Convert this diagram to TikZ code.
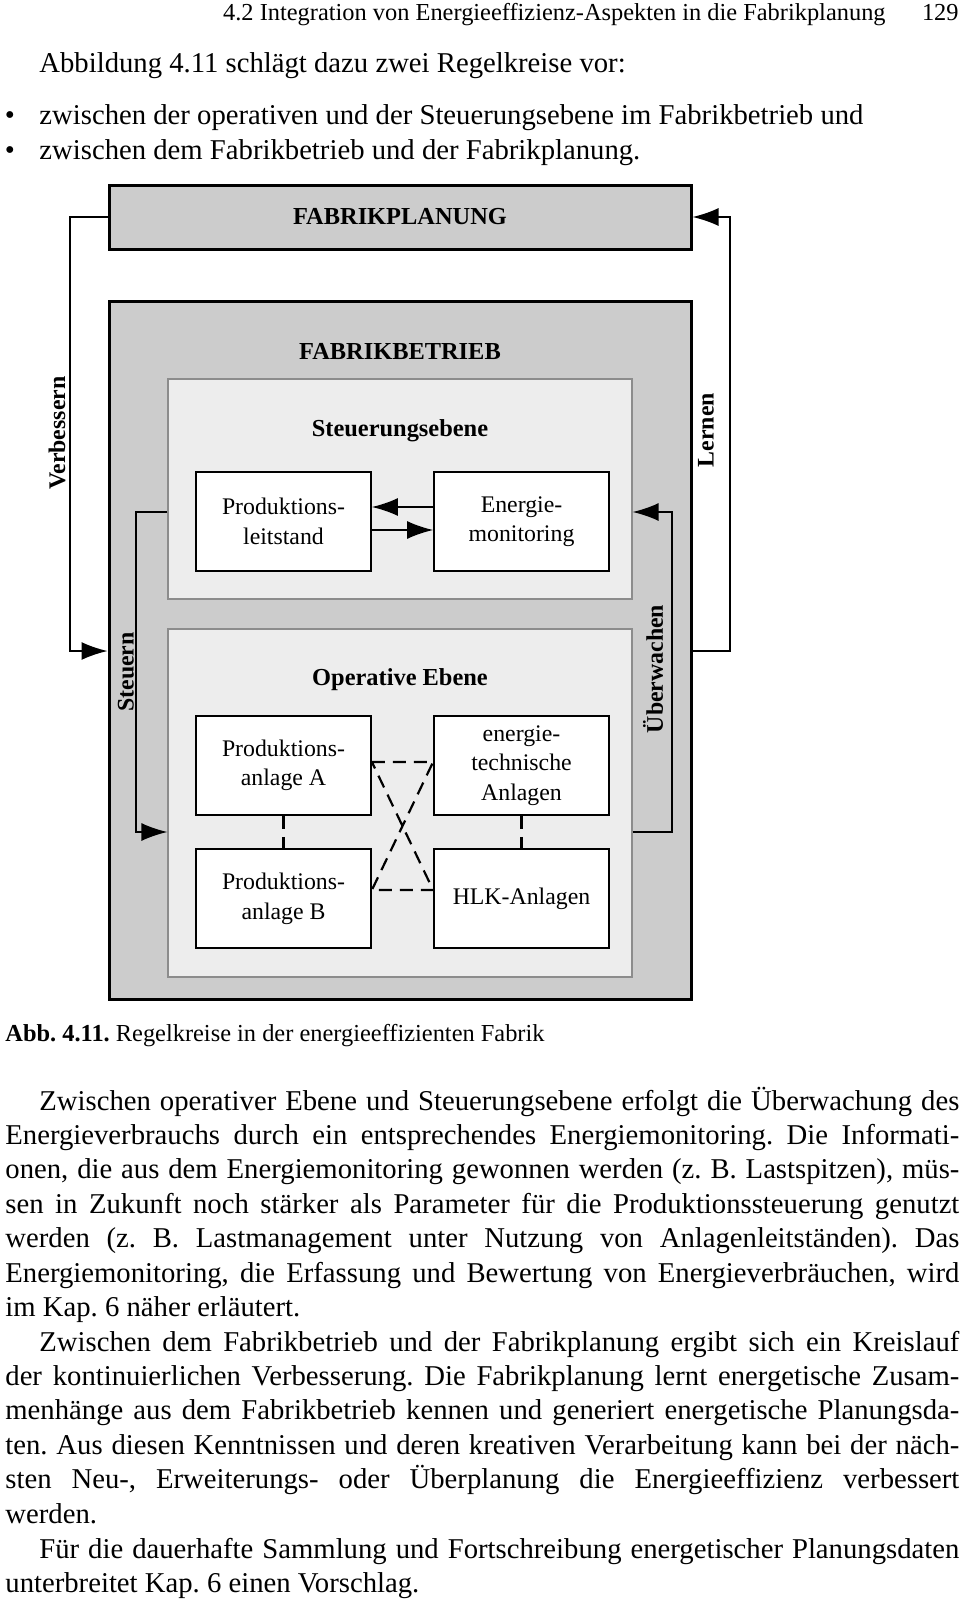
\documentclass[tikz,border=0pt]{standalone}
\usepackage{fontspec}
\setmainfont{Liberation Serif}
\usetikzlibrary{arrows.meta}
\definecolor{darkfill}{gray}{0.80}
\definecolor{lightfill}{gray}{0.93}
\definecolor{framegray}{gray}{0.55}
\tikzstyle{level} = [draw, line width=1.5pt, fill=darkfill, rectangle,
    minimum width=291pt]
\tikzstyle{layer} = [draw=framegray, line width=0.6pt, fill=lightfill, rectangle,
    minimum width=232pt]
\tikzstyle{block} = [draw, line width=0.9pt, fill=white, rectangle, align=center,
    minimum width=87.5pt, minimum height=49.5pt, font=\fontsize{11.9}{14.8}\selectfont]
\tikzstyle{title} = [font=\fontsize{12.2}{14.8}\selectfont\bfseries]
\tikzstyle{loop} = [font=\fontsize{11.9}{14.8}\selectfont\bfseries, rotate=90]
\tikzstyle{conn} = [line width=0.8pt]
\tikzstyle{link} = [line width=1.1pt, dash pattern=on 6.5pt off 4pt]
\tikzstyle{body} = [anchor=base west, inner sep=0pt, font=\fontsize{14.35}{17.22}\selectfont]
\tikzstyle{small} = [anchor=base west, inner sep=0pt, font=\fontsize{12.2}{14.6}\selectfont]
\newcommand\jline[1]{\makebox[477pt][s]{#1}}
\frenchspacing

\begin{document}
\begin{tikzpicture}[x=0.5pt, y=-0.5pt, >={Latex[length=13pt,width=9pt]}]
    \path [use as bounding box, fill=white] (0,0) rectangle (960,1600);
    % page head and text above the figure
    \node [small, anchor=base east] (head) at (886,21) {4.2 Integration von Energieeffizienz-Aspekten in die Fabrikplanung};
    \node [small, anchor=base east] (pagenum) at (959,21) {129};
    \node [body] (intro) at (39,73) {Abbildung 4.11 schlägt dazu zwei Regelkreise vor:};
    \node [body, anchor=base] (dot1) at (10,125) {\textbullet};
    \node [body] (item1) at (39,125) {zwischen der operativen und der Steuerungsebene im Fabrikbetrieb und};
    \node [body, anchor=base] (dot2) at (10,160) {\textbullet};
    \node [body] (item2) at (39,160) {zwischen dem Fabrikbetrieb und der Fabrikplanung.};

    % figure
    \node [level, minimum height=32pt, title] (fp) at (400,217) {FABRIKPLANUNG};
    \node [level, minimum height=349pt] (fb) at (400,650) {};
    \node [title] (fbtitle) at (400,351) {FABRIKBETRIEB};
    \node [layer, minimum height=110pt] (se) at (400,489) {};
    \node [title] (setitle) at (400,431) {Steuerungsebene};
    \node [layer, minimum height=174pt] (oe) at (400,803) {};
    \node [title] (oetitle) at (400,680) {Operative Ebene};

    \node [block] (pl) at (283.5,521.5) {Produktions-\\leitstand};
    \node [block, right of=pl, node distance=119pt] (em) {Energie-\\monitoring};
    \node [block, below of=pl, node distance=122pt] (pa) {Produktions-\\anlage A};
    \node [block, below of=pa, node distance=66.5pt] (pb) {Produktions-\\anlage B};
    \node [block, right of=pa, node distance=119pt] (ea) {energie-\\technische\\Anlagen};
    \node [block, right of=pb, node distance=119pt] (hlk) {HLK-Anlagen};

    \coordinate (vb) at (70,651);
    \coordinate (lr) at (730,651);
    \coordinate (st) at (136,512);
    \coordinate (sb) at (136,832);
    \coordinate (ub) at (672,832);
    \coordinate (ut) at (672,512);

    \draw [conn,->] (fp.west) -| (vb) -- (vb -| fb.west);
    \draw [conn,->] (lr -| fb.east) -- (lr) |- (fp.east);
    \draw [conn,->] (st -| se.west) -- (st) -- (sb) -- (sb -| oe.west);
    \draw [conn,->] (ub -| oe.east) -- (ub) -- (ut) -- (ut -| se.east);
    \draw [conn,->] ([yshift=7.25pt]em.west) -- ([yshift=7.25pt]pl.east);
    \draw [conn,->] ([yshift=-4.25pt]pl.east) -- ([yshift=-4.25pt]em.west);

    \draw [link] (pa) -- (pb);
    \draw [link] (ea) -- (hlk);
    \draw [link] ([yshift=1.75pt]pa.east) -- ([yshift=1.75pt]ea.west)
        -- ([yshift=4.25pt]pb.east) -- ([yshift=4.25pt]hlk.west) -- cycle;

    \node [loop] (verb) at (57,433) {Verbessern};
    \node [loop] (lern) at (706,430) {Lernen};
    \node [loop] (steu) at (126,672) {Steuern};
    \node [loop] (uebw) at (653,669) {Überwachen};

    % caption and text below the figure
    \node [small] (caption) at (5,1041) {\textbf{Abb. 4.11.} Regelkreise in der energieeffizienten Fabrik};
    \node [body] (para1) at (5,1110) {\parbox[t]{477pt}{%
        \jline{\hspace*{17pt}Zwischen operativer Ebene und Steuerungsebene erfolgt die Überwachung des}\\
        \jline{Energieverbrauchs durch ein entsprechendes Energiemonitoring. Die Informati-}\\
        \jline{onen, die aus dem Energiemonitoring gewonnen werden (z. B. Lastspitzen), müs-}\\
        \jline{sen in Zukunft noch stärker als Parameter für die Produktionssteuerung genutzt}\\
        \jline{werden (z. B. Lastmanagement unter Nutzung von Anlagenleitständen). Das}\\
        \jline{Energiemonitoring, die Erfassung und Bewertung von Energieverbräuchen, wird}\\
        im Kap. 6 näher erläutert.}};
    \node [body] (para2) at (5,1351) {\parbox[t]{477pt}{%
        \jline{\hspace*{17pt}Zwischen dem Fabrikbetrieb und der Fabrikplanung ergibt sich ein Kreislauf}\\
        \jline{der kontinuierlichen Verbesserung. Die Fabrikplanung lernt energetische Zusam-}\\
        \jline{menhänge aus dem Fabrikbetrieb kennen und generiert energetische Planungsda-}\\
        \jline{ten. Aus diesen Kenntnissen und deren kreativen Verarbeitung kann bei der näch-}\\
        \jline{sten Neu-, Erweiterungs- oder Überplanung die Energieeffizienz verbessert}\\
        werden.}};
    \node [body] (para3) at (5,1558) {\parbox[t]{477pt}{%
        \jline{\hspace*{17pt}Für die dauerhafte Sammlung und Fortschreibung energetischer Planungsdaten}\\
        unterbreitet Kap. 6 einen Vorschlag.}};
\end{tikzpicture}
\end{document}
